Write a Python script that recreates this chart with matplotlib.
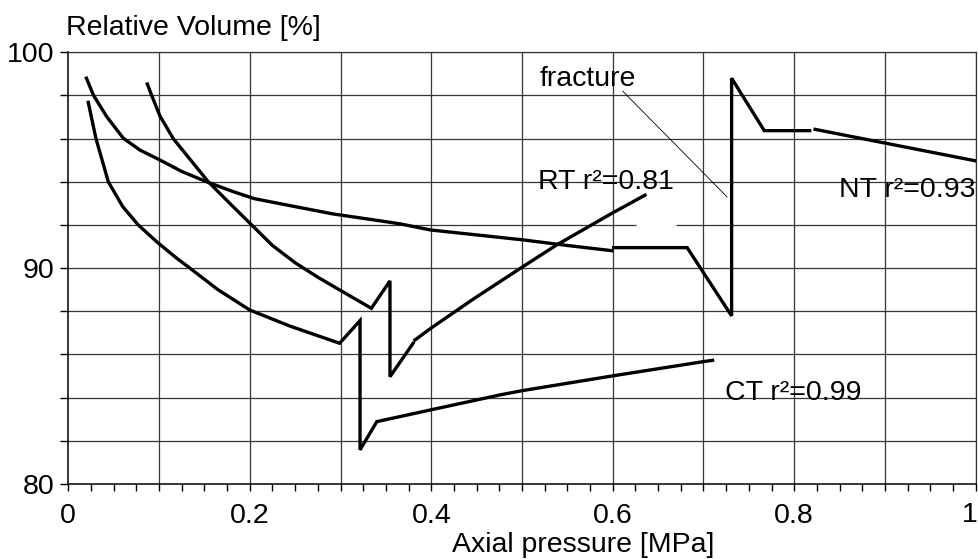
import numpy as np
import matplotlib
matplotlib.use("Agg")
import matplotlib.pyplot as plt
from matplotlib.ticker import MultipleLocator, FuncFormatter
from matplotlib.transforms import ScaledTranslation

plt.rcParams['font.family'] = ['Liberation Sans', 'DejaVu Sans']

nan = np.nan
# NT curve (with breaks)
nt_x = [0.020, 0.0276, 0.0423, 0.0606, 0.079, 0.101, 0.125, 0.1525, 0.180, 0.205, 0.250,
        0.292, 0.344, 0.366, 0.399, 0.450, 0.501, 0.550, 0.599, nan,
        0.601, 0.682, 0.731, 0.731, 0.767, 0.817, nan, 0.823, 1.000]
nt_y = [98.80, 98.02, 97.02, 96.02, 95.47, 95.01, 94.48, 94.00, 93.57, 93.22, 92.85,
        92.51, 92.19, 92.05, 91.77, 91.54, 91.31, 91.05, 90.81, nan,
        90.95, 90.95, 87.79, 98.80, 96.37, 96.37, nan, 96.43, 94.97]

# RT curve
rt_x = [0.0871, 0.0919, 0.101, 0.1157, 0.1543, 0.178, 0.2021, 0.225, 0.250, 0.275, 0.299,
        0.334, 0.3545, 0.3545, 0.380, nan, 0.382, 0.399, 0.445, 0.501, 0.538, 0.599, 0.6355]
rt_y = [98.53, 98.00, 97.05, 96.00, 94.00, 93.00, 92.00, 91.05, 90.25, 89.58, 88.99,
        88.14, 89.41, 84.97, 86.52, nan, 86.67, 87.20, 88.53, 90.07, 91.07, 92.54, 93.38]

# CT curve
ct_x = [0.022, 0.0305, 0.0441, 0.060, 0.0771, 0.098, 0.1195, 0.134, 0.165, 0.200, 0.244,
        0.299, 0.3215, 0.3215, 0.340, 0.399, 0.476, 0.501, 0.600, 0.700, 0.710]
ct_y = [97.68, 96.00, 94.00, 92.85, 92.00, 91.20, 90.46, 90.00, 89.00, 88.06, 87.32,
        86.52, 87.57, 81.58, 82.89, 83.43, 84.13, 84.33, 85.01, 85.67, 85.73]

x_ticklabels = ["0", "0.2", "0.4", "0.6", "0.8", "1"]
y_ticklabels = ["80", "90", "100"]

fig = plt.figure(figsize=(9.79, 5.59), dpi=100)
ax = fig.add_axes([68.3/979, 1-484/559, (975.7-68.3)/979, (484-52.3)/559])
ax.set_xlim(0, 1)
ax.set_ylim(80, 100)

gridc = '#363636'
for gx in np.arange(0.1, 1.001, 0.1):
    ax.axvline(gx, color=gridc, lw=0.9, zorder=1)
for gy in np.arange(82, 100.01, 2):
    ax.axhline(gy, color=gridc, lw=0.9, zorder=1)
# small gap in grid line at 92
ax.plot([0.626, 0.670], [92, 92], color='white', lw=2.5, zorder=1.5, solid_capstyle='butt')

lw = 2.4
for xs, ys in [(nt_x, nt_y), (rt_x, rt_y), (ct_x, ct_y)]:
    ax.plot(xs, ys, color='black', lw=lw, zorder=3, solid_joinstyle='miter')

fs = 20.5
ax.text(0.5727, 98.76, "fracture", fontsize=fs, ha='center', va='center', zorder=4)
ax.plot([0.611, 0.726], [98.2, 93.3], color='black', lw=0.6, zorder=2)
ax.text(0.5925, 94.0, "RT r²=0.81", fontsize=fs, ha='center', va='center', zorder=4)
ax.text(1.0, 93.62, "NT r²=0.93", fontsize=fs, ha='right', va='center', zorder=4)
ax.text(0.7986, 84.22, "CT r²=0.99", fontsize=fs, ha='center', va='center', zorder=4)

def xfmt(v, p):
    k = int(round(v * 10))
    if abs(v * 10 - k) < 1e-6 and k % 2 == 0 and k < 10:
        return x_ticklabels[k // 2]
    return ""

ax.xaxis.set_major_locator(MultipleLocator(0.1))
ax.xaxis.set_minor_locator(MultipleLocator(0.025))
ax.xaxis.set_major_formatter(FuncFormatter(xfmt))
ax.yaxis.set_major_locator(MultipleLocator(2))
ax.yaxis.set_major_formatter(FuncFormatter(
    lambda v, p: y_ticklabels[int(round((v-80)/10))] if abs(v % 10) < 1e-6 or abs(v % 10 - 10) < 1e-6 else ""))

ax.tick_params(axis='x', which='both', direction='out', length=5, width=1, pad=9, labelsize=fs)
ax.tick_params(axis='y', which='major', direction='out', length=6, width=1, pad=4, labelsize=fs)
# last x tick label "1", nudged left so it stays inside the picture
ax.text(1.0, 0, x_ticklabels[-1], fontsize=fs, ha='center', va='top',
        transform=ax.get_xaxis_transform() + ScaledTranslation(-6/100, -(5+9*100/72)/100, fig.dpi_scale_trans))

for s in ['top', 'right']:
    ax.spines[s].set_color(gridc)
    ax.spines[s].set_linewidth(0.9)
for s in ['left', 'bottom']:
    ax.spines[s].set_color('black')
    ax.spines[s].set_linewidth(1.1)

fig.text(66/979, 1-35/559, "Relative Volume [%]", fontsize=fs, ha='left', va='baseline')
fig.text(583/979, 1-552/559, "Axial pressure [MPa]", fontsize=fs, ha='center', va='baseline')

fig.savefig("out.png", dpi=100)
